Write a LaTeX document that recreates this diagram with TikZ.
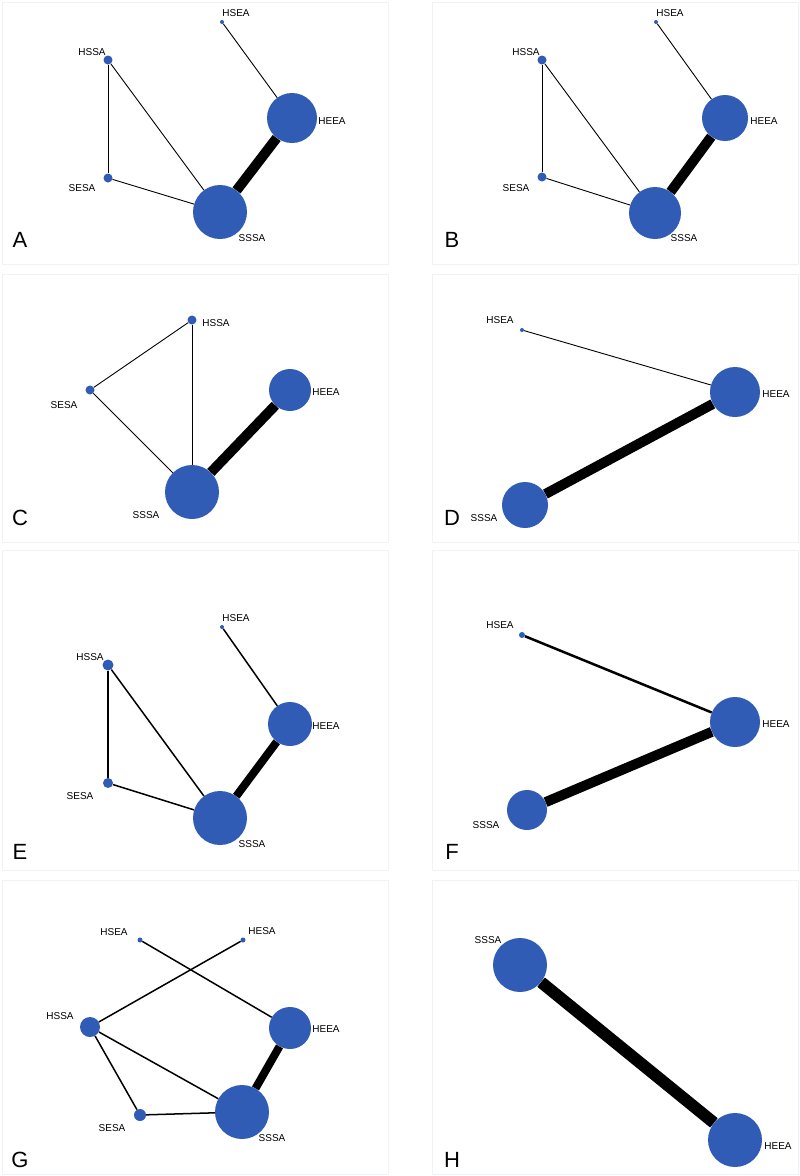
\documentclass[tikz,border=0pt]{standalone}
\usepackage{fontspec}
\setmainfont{Liberation Sans}
\definecolor{nb}{RGB}{48,92,182}
\definecolor{fr}{RGB}{240,242,247}
\begin{document}
\begin{tikzpicture}[x=1pt,y=-1pt,
 nd/.style={circle,fill=nb,inner sep=0pt,minimum size=#1},
 lb/.style={font=\fontsize{10}{10}\selectfont},
 pl/.style={font=\fontsize{22}{22}\selectfont},
 e/.style={line width=#1},
 e/.default=0.9,
 frame/.style={draw=fr,line width=0.8}]
\useasboundingbox (0,0) rectangle (800,1176);
\fill[white] (0,0) rectangle (800,1176);
\foreach \y/\h in {0/264,272/270,548/322,878/296}{
 \draw[frame] (2,\y+2) rectangle (388,\y+\h);
 \draw[frame] (432,\y+2) rectangle (798,\y+\h);}
% A
\node[nd=4] (aHSEA) at (222,22) {}; \node[nd=9] (aHSSA) at (108,60) {};
\node[nd=50] (aHEEA) at (292,118) {}; \node[nd=9] (aSESA) at (108,178) {};
\node[nd=54] (aSSSA) at (220,212) {};
\draw[e] (aHSEA)--(aHEEA); \draw[e] (aHSSA)--(aSESA); \draw[e] (aHSSA)--(aSSSA);
\draw[e] (aSESA)--(aSSSA); \draw[e=10] (aHEEA)--(aSSSA);
\node[lb] at (236,13) {HSEA}; \node[lb] at (92,52) {HSSA}; \node[lb] at (332,121) {HEEA};
\node[lb] at (82,188) {SESA}; \node[lb] at (252,238) {SSSA}; \node[pl] at (20,240) {A};
% B
\node[nd=4] (bHSEA) at (656,22) {}; \node[nd=9] (bHSSA) at (542,60) {};
\node[nd=46] (bHEEA) at (725,118) {}; \node[nd=9] (bSESA) at (542,177) {};
\node[nd=52] (bSSSA) at (655,213) {};
\draw[e] (bHSEA)--(bHEEA); \draw[e] (bHSSA)--(bSESA); \draw[e] (bHSSA)--(bSSSA);
\draw[e] (bSESA)--(bSSSA); \draw[e=10] (bHEEA)--(bSSSA);
\node[lb] at (670,13) {HSEA}; \node[lb] at (526,52) {HSSA}; \node[lb] at (764,121) {HEEA};
\node[lb] at (516,188) {SESA}; \node[lb] at (684,238) {SSSA}; \node[pl] at (452,240) {B};
% C
\node[nd=9] (cHSSA) at (192,320) {}; \node[nd=9] (cSESA) at (90,390) {};
\node[nd=42] (cHEEA) at (290,390) {}; \node[nd=54] (cSSSA) at (192,492) {};
\draw[e] (cHSSA)--(cSESA); \draw[e] (cHSSA)--(cSSSA); \draw[e] (cSESA)--(cSSSA);
\draw[e=10] (cHEEA)--(cSSSA);
\node[lb] at (216,323) {HSSA}; \node[lb] at (64,405) {SESA}; \node[lb] at (326,392) {HEEA};
\node[lb] at (146,515) {SSSA}; \node[pl] at (20,518) {C};
% D
\node[nd=4] (dHSEA) at (522,330) {}; \node[nd=50] (dHEEA) at (735,392) {};
\node[nd=46] (dSSSA) at (525,505) {};
\draw[e] (dHSEA)--(dHEEA); \draw[e=10] (dSSSA)--(dHEEA);
\node[lb] at (500,320) {HSEA}; \node[lb] at (776,394) {HEEA};
\node[lb] at (484,518) {SSSA}; \node[pl] at (452,518) {D};
% E
\node[nd=4] (eHSEA) at (222,627) {}; \node[nd=11] (eHSSA) at (108,665) {};
\node[nd=44] (eHEEA) at (290,724) {}; \node[nd=10] (eSESA) at (108,783) {};
\node[nd=54] (eSSSA) at (220,818) {};
\draw[e=1.5] (eHSEA)--(eHEEA); \draw[e=1.5] (eHSSA)--(eSESA); \draw[e=1.5] (eHSSA)--(eSSSA);
\draw[e=1.5] (eSESA)--(eSSSA); \draw[e=8] (eHEEA)--(eSSSA);
\node[lb] at (236,618) {HSEA}; \node[lb] at (90,657) {HSSA}; \node[lb] at (326,726) {HEEA};
\node[lb] at (80,796) {SESA}; \node[lb] at (252,844) {SSSA}; \node[pl] at (20,852) {E};
% F
\node[nd=6] (fHSEA) at (522,635) {}; \node[nd=50] (fHEEA) at (735,722) {};
\node[nd=40] (fSSSA) at (527,810) {};
\draw[e=2.5] (fHSEA)--(fHEEA); \draw[e=10] (fSSSA)--(fHEEA);
\node[lb] at (500,625) {HSEA}; \node[lb] at (776,724) {HEEA};
\node[lb] at (486,825) {SSSA}; \node[pl] at (452,852) {F};
% G
\node[nd=5] (gHSEA) at (140,940) {}; \node[nd=5] (gHESA) at (243,940) {};
\node[nd=20] (gHSSA) at (90,1027) {}; \node[nd=42] (gHEEA) at (290,1028) {};
\node[nd=12] (gSESA) at (140,1115) {}; \node[nd=54] (gSSSA) at (242,1112) {};
\draw[e=1.5] (gHSEA)--(gHEEA); \draw[e=1.5] (gHESA)--(gHSSA);
\draw[e=1.5] (gHSSA)--(gSESA); \draw[e=1.5] (gHSSA)--(gSSSA);
\draw[e=1.5] (gSESA)--(gSSSA); \draw[e=8] (gHEEA)--(gSSSA);
\node[lb] at (114,932) {HSEA}; \node[lb] at (262,931) {HESA}; \node[lb] at (60,1016) {HSSA};
\node[lb] at (326,1029) {HEEA}; \node[lb] at (112,1128) {SESA}; \node[lb] at (272,1138) {SSSA};
\node[pl] at (20,1160) {G};
% H
\node[nd=54] (hSSSA) at (520,965) {}; \node[nd=54] (hHEEA) at (735,1140) {};
\draw[e=12] (hSSSA)--(hHEEA);
\node[lb] at (488,940) {SSSA}; \node[lb] at (778,1146) {HEEA}; \node[pl] at (452,1160) {H};
\end{tikzpicture}
\end{document}
